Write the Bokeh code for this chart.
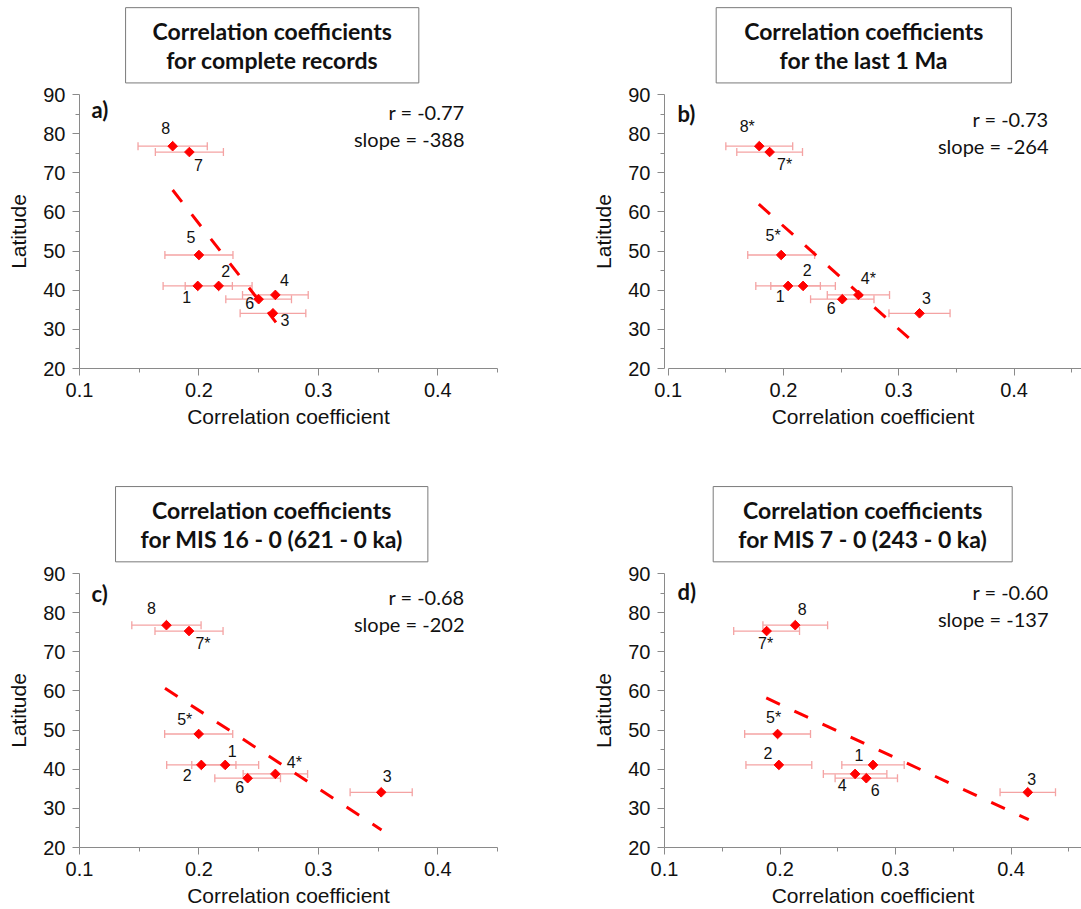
import math
from bokeh.plotting import figure
from bokeh.models import (ColumnDataSource, Whisker, TeeHead, LabelSet, Label,
                          Range1d, FixedTicker)
from bokeh.core.properties import value
from bokeh.layouts import column, row
from bokeh.embed import file_html
from bokeh.resources import INLINE

# ---------------- data ----------------
site_ids = ["1", "2", "3", "4", "5", "6", "7", "8"]
latitude = [41.1, 41.1, 34.1, 38.8, 49.0, 37.7, 75.3, 76.8]

coef_a = [0.199, 0.2165, 0.262, 0.264, 0.200, 0.250, 0.192, 0.178]
err_a = [0.029, 0.028, 0.0275, 0.0275, 0.0285, 0.0275, 0.0285, 0.029]
labels_a = ["1", "2", "3", "4", "5", "6", "7", "8"]
fit_x_a = [0.178, 0.2645]
fit_y_a = [65.6, 31.8]

coef_b = [0.204, 0.217, 0.318, 0.265, 0.198, 0.251, 0.188, 0.179]
err_b = [0.028, 0.028, 0.0265, 0.027, 0.029, 0.0275, 0.0285, 0.029]
labels_b = ["1", "2", "3", "4*", "5*", "6", "7*", "8*"]
fit_x_b = [0.1786, 0.309]
fit_y_b = [62.0, 27.7]

coef_c = [0.222, 0.202, 0.3526, 0.264, 0.1998, 0.2408, 0.1917, 0.1728]
err_c = [0.028, 0.029, 0.026, 0.027, 0.0285, 0.0275, 0.0285, 0.029]
labels_c = ["1", "2", "3", "4*", "5*", "6", "7*", "8"]
fit_x_c = [0.1716, 0.3529]
fit_y_c = [60.7, 24.5]

coef_d = [0.2805, 0.199, 0.4145, 0.265, 0.1979, 0.2747, 0.1884, 0.2132]
err_d = [0.027, 0.0285, 0.024, 0.0275, 0.0285, 0.027, 0.0285, 0.028]
labels_d = ["1", "2", "3", "4", "5*", "6", "7*", "8"]
fit_x_d = [0.1881, 0.4153]
fit_y_d = [58.2, 27.1]

r_values = ["-0.77", "-0.73", "-0.68", "-0.60"]
slope_values = ["-388", "-264", "-202", "-137"]
panel_letters = ["a)", "b)", "c)", "d)"]
titles = [
    "Correlation coefficients\nfor complete records",
    "Correlation coefficients\nfor the last 1 Ma",
    "Correlation coefficients\nfor MIS 16 - 0 (621 - 0 ka)",
    "Correlation coefficients\nfor MIS 7 - 0 (243 - 0 ka)",
]
x_ticks = [0.1, 0.2, 0.3, 0.4]
x_minor_ticks = [0.15, 0.25, 0.35, 0.45]
y_ticks = [20, 30, 40, 50, 60, 70, 80, 90]
y_minor_ticks = [25, 35, 45, 55, 65, 75, 85]
x_label = "Correlation coefficient"
y_label = "Latitude"

# ------------- label offsets (px, dx right, dy down) -------------
offs_a = [(-11, 11), (7, -15), (12, 7), (9, -15), (-8, -18), (-9, 4), (9, 13), (-7, -18)]
offs_b = [(-8, 10), (4, -16), (7, -15), (10, -16), (-8, -19), (-11, 9), (15, 12), (-12, -20)]
offs_c = [(7, -14), (-14, 10), (6, -16), (19, -11), (-14, -14), (-8, 9), (14, 12), (-15, -17)]
offs_d = [(-14, -10), (-11, -12), (4, -13), (-13, 11), (-4, -16), (9, 12), (-1, 12), (7, -16)]

# ------------- styles -------------
RED = "#ff0000"
ERR = "#f4a3a3"
AXIS = "#8a8a8a"
SANS = "Liberation Sans"
TITLE_FONT = "Lato"


def make_title(idx, w, h, cx, cy, padx):
    t = figure(frame_width=w, frame_height=h,
               min_border_left=0, min_border_right=0, min_border_top=0, min_border_bottom=0,
               x_range=Range1d(0, w), y_range=Range1d(0, h),
               x_axis_type=None, y_axis_type=None,
               output_backend="svg", toolbar_location=None, tools="")
    t.outline_line_color = None
    t.grid.visible = False
    t.add_layout(Label(x=cx, y=h - cy, text=titles[idx],
                       text_font=TITLE_FONT, text_font_style="bold", text_font_size="23px",
                       text_align="center", text_baseline="middle", text_color="#111111",
                       text_line_height=1.045,
                       border_line_color="#7a7a7a", border_line_width=1,
                       background_fill_color="white",
                       padding=dict(left=padx, right=padx, top=9, bottom=9)))
    return t


def make_panel(coef, err, labels, fit_x, fit_y, offs, idx, layout):
    bl, fw, br, bt, bb, x0, x1 = layout["geom"]
    p = figure(frame_width=fw, frame_height=274,
               min_border_left=bl, min_border_right=br,
               min_border_top=bt, min_border_bottom=bb,
               x_range=Range1d(x0, x1), y_range=Range1d(20, 90),
               output_backend="svg", toolbar_location=None, tools="")
    p.outline_line_color = None
    p.grid.visible = False
    p.background_fill_color = "white"
    p.border_fill_color = "white"

    p.xaxis.ticker = FixedTicker(ticks=x_ticks, minor_ticks=x_minor_ticks)
    p.yaxis.ticker = FixedTicker(ticks=y_ticks, minor_ticks=y_minor_ticks)
    if layout.get("xbounds"):
        p.xaxis.bounds = layout["xbounds"]
    p.xaxis.axis_label = x_label
    p.yaxis.axis_label = y_label
    for ax in (p.xaxis, p.yaxis):
        ax.axis_line_color = AXIS
        ax.major_tick_line_color = AXIS
        ax.minor_tick_line_color = AXIS
        ax.major_tick_out = 7
        ax.major_tick_in = 0
        ax.minor_tick_out = 4
        ax.minor_tick_in = 0
        ax.major_label_text_font = SANS
        ax.major_label_text_font_size = "20px"
        ax.major_label_text_color = "#111111"
        ax.axis_label_text_font = SANS
        ax.axis_label_text_font_size = "21px"
        ax.axis_label_text_font_style = "normal"
        ax.axis_label_text_color = "#111111"
    p.xaxis.major_label_standoff = 7
    p.xaxis.axis_label_standoff = 5
    p.yaxis.major_label_standoff = 7
    p.yaxis.axis_label_standoff = 10

    lo = [c - e for c, e in zip(coef, err)]
    hi = [c + e for c, e in zip(coef, err)]
    src = ColumnDataSource(dict(
        x=coef, y=latitude, lo=lo, hi=hi, text=labels,
        xo=[o[0] for o in offs], yo=[-o[1] for o in offs]))

    p.line(fit_x, fit_y, line_color=RED, line_width=3, line_dash="15 16")

    wh = Whisker(source=src, base="y", lower="lo", upper="hi", dimension="width",
                 line_color=ERR, line_width=1.3,
                 lower_head=TeeHead(size=8, line_color=ERR, line_width=1.3),
                 upper_head=TeeHead(size=8, line_color=ERR, line_width=1.3))
    p.add_layout(wh)

    p.scatter("x", "y", source=src, marker="square", angle=math.pi / 4,
              size=6.8, fill_color=RED, line_color=RED)

    ls = LabelSet(source=src, x="x", y="y", text="text", x_offset="xo", y_offset="yo",
                  text_align="center", text_baseline="middle",
                  text_font=value(SANS), text_font_size="16px", text_color="#111111")
    p.add_layout(ls)

    lx, ly = layout["letter"]
    p.add_layout(Label(x=x0, y=90, x_offset=lx, y_offset=-ly, text=panel_letters[idx],
                       text_font=TITLE_FONT, text_font_style="bold", text_font_size="22px",
                       text_align="left", text_baseline="middle", text_color="#111111"))
    ry, sy = layout["stats"]
    for txt, yy in ((f"r = {r_values[idx]}", ry), (f"slope = {slope_values[idx]}", sy)):
        p.add_layout(Label(x=x1, y=90, x_offset=-33, y_offset=-yy, text=txt,
                           text_font=TITLE_FONT, text_font_size="20px",
                           text_align="right", text_baseline="middle", text_color="#111111"))
    return p


layouts = [
    dict(geom=(79, 418, 43, 10, 87, 0.1, 0.45), letter=(12, 15), stats=(17, 44)),
    dict(geom=(124, 417, 0, 10, 87, 0.0968, 0.4585), xbounds=(0.1, 0.4585),
         letter=(13, 19), stats=(24, 51)),
    dict(geom=(79, 418, 43, 10, 62, 0.1, 0.45), letter=(12, 20), stats=(23, 50)),
    dict(geom=(124, 417, 0, 10, 62, 0.1, 0.461), letter=(13, 18), stats=(18, 45)),
]

ta = make_title(0, 540, 84, 271.7, 44.8, 27)
tb = make_title(1, 541, 84, 323.3, 44.8, 28)
tc = make_title(2, 540, 108, 271.2, 68.7, 25)
td = make_title(3, 541, 108, 322.2, 68.7, 25)

pa = make_panel(coef_a, err_a, labels_a, fit_x_a, fit_y_a, offs_a, 0, layouts[0])
pb = make_panel(coef_b, err_b, labels_b, fit_x_b, fit_y_b, offs_b, 1, layouts[1])
pc = make_panel(coef_c, err_c, labels_c, fit_x_c, fit_y_c, offs_c, 2, layouts[2])
pd = make_panel(coef_d, err_d, labels_d, fit_x_d, fit_y_d, offs_d, 3, layouts[3])

page = column(row(ta, tb), row(pa, pb), row(tc, td), row(pc, pd))

with open("out.html", "w") as f:
    f.write(file_html(page, INLINE))
